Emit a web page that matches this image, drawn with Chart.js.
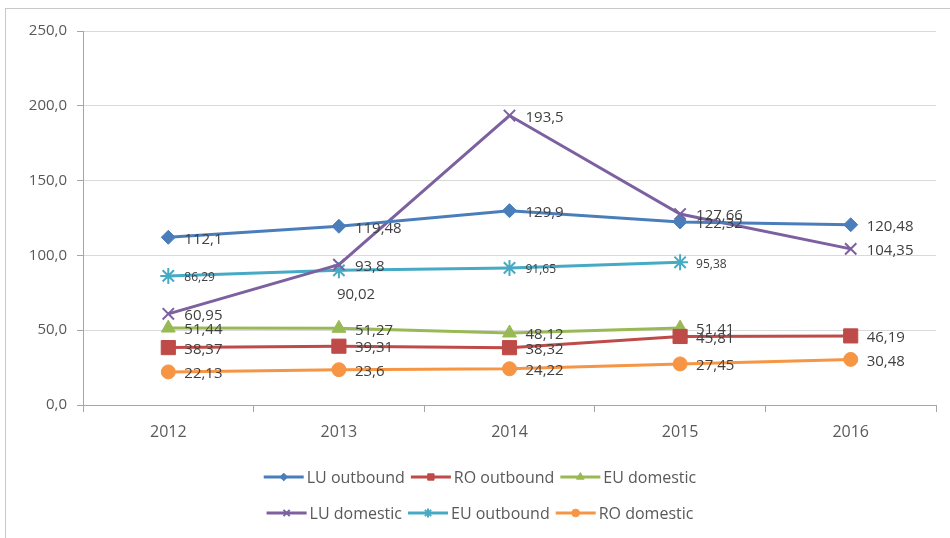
<!DOCTYPE html>
<html>
<head>
<meta charset="utf-8">
<script src="https://cdn.jsdelivr.net/npm/chart.js@4.4.1/dist/chart.umd.min.js"></script>
<style>
  html, body { margin: 0; padding: 0; background: #fff; overflow: hidden; }
  #frame {
    position: absolute; left: 5px; top: 8px; width: 1000px; height: 600px;
    border: 1px solid #c8c8c8; box-sizing: border-box;
  }
  #chart { position: absolute; left: 0; top: 0; }
</style>
</head>
<body>
<div id="frame"></div>
<canvas id="chart" width="950" height="538"></canvas>
<script>
const years = ['2012', '2013', '2014', '2015', '2016'];
const luOutbound = [112.1, 119.48, 129.9, 122.32, 120.48];
const roOutbound = [38.37, 39.31, 38.32, 45.81, 46.19];
const euDomestic = [51.44, 51.27, 48.12, 51.41, null];
const luDomestic = [60.95, 93.8, 193.5, 127.66, 104.35];
const euOutbound = [86.29, 90.02, 91.65, 95.38, null];
const roDomestic = [22.13, 23.6, 24.22, 27.45, 30.48];
const yTicks = [0, 50, 100, 150, 200, 250];

const FONT = "'Open Sans', 'Liberation Sans', sans-serif";
const comma = (v) => String(v).replace('.', ',');

const makeSeries = (label, data, color, pointStyle, radius, labelSize) => ({
  label,
  data,
  borderColor: color,
  backgroundColor: color,
  pointBackgroundColor: color,
  pointBorderColor: color,
  borderWidth: 3,
  pointStyle,
  pointRadius: radius,
  pointHoverRadius: radius,
  pointBorderWidth: (pointStyle === 'crossRot' || pointStyle === 'star') ? 2 : 1,
  tension: 0,
  spanGaps: false,
  labelSize
});

const datasets = [
  makeSeries('LU outbound', luOutbound, '#4a7ebb', 'rectRot', 7, 15),
  makeSeries('RO outbound', roOutbound, '#be4b48', 'rect', 10, 15),
  makeSeries('EU domestic', euDomestic, '#98b954', 'triangle', 8, 15),
  makeSeries('LU domestic', luDomestic, '#7d60a0', 'crossRot', 8, 15),
  makeSeries('EU outbound', euOutbound, '#46aac5', 'star', 8, 12),
  makeSeries('RO domestic', roDomestic, '#f69544', 'circle', 7, 15)
];

// value labels sit to the right of each point; one is moved under its point
const labelNudge = {
  '4-1': { dx: -18, dy: 22, size: 15 }
};

const valueLabels = {
  id: 'valueLabels',
  afterDatasetsDraw(chart) {
    const ctx = chart.ctx;
    ctx.save();
    ctx.fillStyle = '#404040';
    ctx.textAlign = 'left';
    ctx.textBaseline = 'middle';
    chart.data.datasets.forEach((ds, i) => {
      const meta = chart.getDatasetMeta(i);
      meta.data.forEach((pt, j) => {
        const v = ds.data[j];
        if (v === null || v === undefined) return;
        const nudge = labelNudge[i + '-' + j] || { dx: 0, dy: 0 };
        ctx.font = (nudge.size || ds.labelSize) + 'px ' + FONT;
        ctx.fillText(comma(v), pt.x + 16 + nudge.dx, pt.y + 2 + nudge.dy);
      });
    });
    ctx.restore();
  }
};

// two-row legend under the axis, line sample with a small marker
const rowLegend = {
  id: 'rowLegend',
  afterDraw(chart) {
    const ctx = chart.ctx;
    const rows = [[0, 1, 2], [3, 4, 5]];
    const rowY = [477, 513];
    const sample = 40, gapText = 3, gapItem = 6;
    ctx.save();
    ctx.font = '16px ' + FONT;
    ctx.textBaseline = 'middle';
    rows.forEach((row, r) => {
      const widths = row.map(i => sample + gapText + ctx.measureText(chart.data.datasets[i].label).width);
      const total = widths.reduce((a, b) => a + b, 0) + gapItem * (row.length - 1);
      let x = 480 - total / 2;
      row.forEach((i, k) => {
        const ds = chart.data.datasets[i];
        const y = rowY[r];
        ctx.strokeStyle = ds.borderColor;
        ctx.fillStyle = ds.borderColor;
        ctx.lineWidth = 3;
        ctx.beginPath();
        ctx.moveTo(x, y);
        ctx.lineTo(x + sample, y);
        ctx.stroke();
        ctx.lineWidth = ds.pointBorderWidth;
        Chart.helpers.drawPoint(ctx, {
          pointStyle: ds.pointStyle,
          radius: Math.min(4.5, ds.pointRadius * 0.55),
          rotation: 0,
          borderWidth: ds.pointBorderWidth
        }, x + sample / 2, y);
        ctx.fillStyle = '#595959';
        ctx.fillText(ds.label, x + sample + gapText, y + 1);
        x += widths[k] + gapItem;
      });
    });
    ctx.restore();
  }
};

new Chart(document.getElementById('chart'), {
  type: 'line',
  data: { labels: years, datasets },
  plugins: [valueLabels, rowLegend],
  options: {
    responsive: false,
    animation: false,
    layout: { padding: { top: 31, right: 14, bottom: 0, left: 0 } },
    plugins: {
      legend: { display: false },
      tooltip: { enabled: false }
    },
    scales: {
      x: {
        offset: true,
        grid: {
          offset: true,
          drawOnChartArea: false,
          drawTicks: true,
          tickLength: 7,
          color: '#a6a6a6'
        },
        border: { color: '#a6a6a6' },
        ticks: {
          color: '#595959',
          padding: 11,
          font: { family: FONT, size: 16 }
        },
        afterFit: (scale) => { scale.height = 133; }
      },
      y: {
        min: 0,
        max: 250,
        afterBuildTicks: (scale) => { scale.ticks = yTicks.map(v => ({ value: v })); },
        grid: { color: '#d9d9d9', tickLength: 6, tickColor: '#a6a6a6' },
        border: { color: '#a6a6a6' },
        ticks: {
          color: '#595959',
          padding: 10,
          font: { family: FONT, size: 15 },
          callback: (v) => v.toFixed(1).replace('.', ',')
        },
        afterFit: (scale) => { scale.width = 83; }
      }
    }
  }
});
</script>
</body>
</html>
